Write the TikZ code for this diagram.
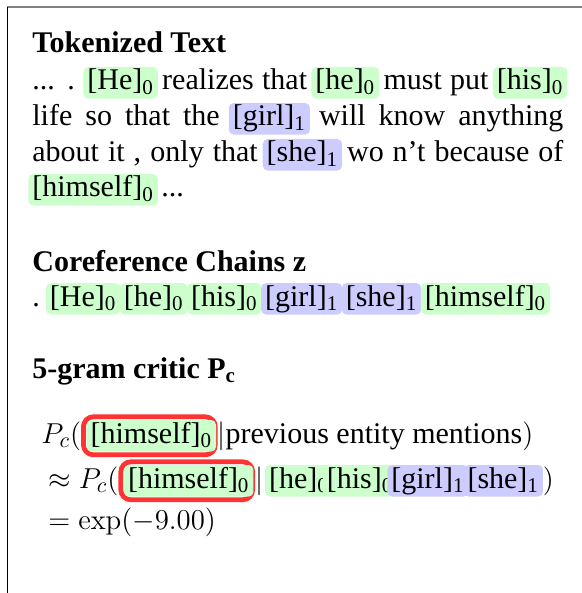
\documentclass[tikz,border=0pt]{standalone}
\usepackage{amsmath}
\usepackage{amssymb}
\usepackage[no-math]{fontspec}
\setmainfont{Liberation Serif}
\usepackage{tikz}

\definecolor{chainA}{HTML}{CCFFCC}
\definecolor{chainB}{HTML}{CCCCFF}
\definecolor{critic}{HTML}{FF3333}

\tikzset{
  txt/.style={anchor=base west, inner sep=0pt, font=\fontsize{15}{18}\selectfont},
  head/.style={txt, font=\fontsize{15}{18}\selectfont\bfseries},
  mention/.style={rounded corners=2.5pt, inner xsep=2pt, inner ysep=1pt,
    text height=10.5pt, text depth=3.3pt},
  critbox/.style={draw=critic, line width=2.4pt, rounded corners=5pt, inner sep=1.6pt}
}
% mention with chain index (padding does not take space)
\newcommand{\ment}[3]{\hspace{-2pt}\tikz[baseline=(m.base)]\node[mention, fill=#1] (m) {[#2]$_\text{#3}$};\hspace{-2pt}}
% red frame of the critic
\newcommand{\crit}[1]{\tikz[baseline=(c.base)]\node[critbox] (c) {\hspace{2pt}#1\hspace{2pt}};}

\begin{document}
\begin{tikzpicture}[x=0.5pt, y=-0.5pt]
  \useasboundingbox (0,0) rectangle (582,593);
  % Frame
  \draw[gray, line width=1pt] (7,7.5) -- (582,7.5);
  \draw[line width=0.8pt] (7.5,7) -- (7.5,593);

  % Tokenized text
  \node[head] (headTok) at (32,53) {Tokenized Text};
  \node[txt] (tok1) at (32,90) {\makebox[265.5pt][s]{... . \ment{chainA}{He}{0} realizes that \ment{chainA}{he}{0} must put \ment{chainA}{his}{0}}};
  \node[txt] (tok2) at (32,126) {\makebox[265.5pt][s]{life so that the \ment{chainB}{girl}{1} will know anything}};
  \node[txt] (tok3) at (32,162) {\makebox[265.5pt][s]{about it , only that \ment{chainB}{she}{1} wo n't because of}};
  \node[txt] (tok4) at (32,197) {\ment{chainA}{himself}{0} ...};

  % Coreference chains
  \node[head] (headCoref) at (32,271) {Coreference Chains z};
  \node[txt] (chain) at (32,306) {. \ment{chainA}{He}{0} \ment{chainA}{he}{0} \ment{chainA}{his}{0} \ment{chainB}{girl}{1} \ment{chainB}{she}{1} \ment{chainA}{himself}{0}};

  % 5-gram critic
  \node[head] (headCritic) at (32,378) {5-gram critic P\textsubscript{c}};
  \node[txt] (crit1) at (41,443) {$P_c($\crit{\ment{chainA}{himself}{0}}$|$previous entity mentions$)$};
  \node[txt] (crit2) at (48,488) {$\approx P_c($\crit{\ment{chainA}{himself}{0}}$|$\hspace{3pt}\ment{chainA}{he}{0}\hspace{-1pt}\ment{chainA}{his}{0}\hspace{-1pt}\ment{chainB}{girl}{1}\hspace{1.5pt}\ment{chainB}{she}{1}\hspace{2pt}$)$};
  \node[txt] (crit3) at (48,529) {$=\exp(-9.00)$};
\end{tikzpicture}
\end{document}
